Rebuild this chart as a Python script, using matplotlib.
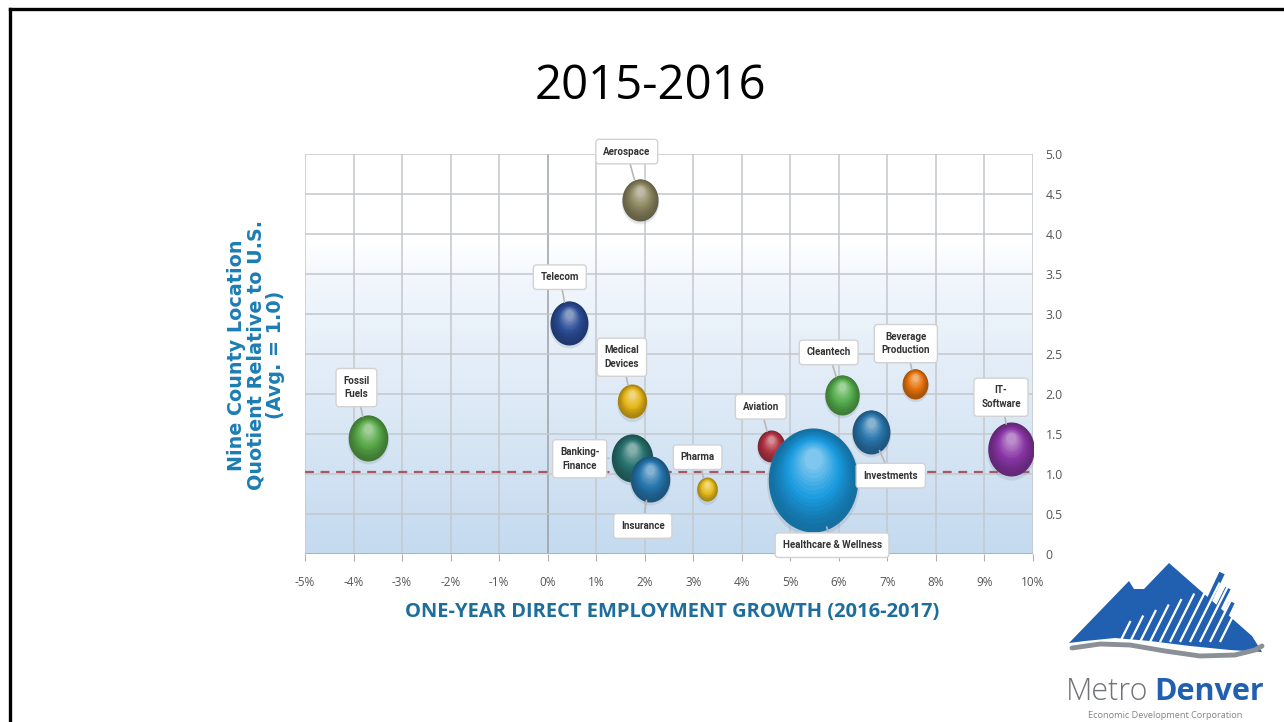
import numpy as np
import matplotlib
matplotlib.use("Agg")
import matplotlib.pyplot as plt
from matplotlib.path import Path
from matplotlib.patches import Polygon
from matplotlib.lines import Line2D
import matplotlib.colors as mcolors

# ---------------- data ----------------
industries = ["Aerospace", "Telecom", "Medical\nDevices", "Fossil\nFuels", "Banking-\nFinance",
              "Insurance", "Pharma", "Aviation", "Healthcare & Wellness", "Cleantech",
              "Investments", "Beverage\nProduction", "IT-\nSoftware"]
growth = [1.9, 0.43, 1.73, -3.71, 1.73, 2.1, 3.28, 4.6, 5.46, 6.06, 6.66, 7.57, 9.55]   # %
lq = [4.43, 2.89, 1.91, 1.45, 1.2, 0.94, 0.81, 1.35, 0.93, 1.99, 1.53, 2.13, 1.31]
bubble_size = [42, 44, 34, 46, 48, 46, 24, 32, 104, 40, 44, 30, 54]   # relative bubble diameter
colors = ["#8c8660", "#2c4e98", "#e6b618", "#58a848", "#27726f", "#2676ae", "#e6bc1c",
          "#b33444", "#1a9be0", "#56ae4e", "#2a78ae", "#e8740c", "#8a36a6"]
label_x = [1.63, 0.25, 1.53, -3.94, 0.66, 1.96, 3.09, 4.39, 5.86, 5.79, 7.07, 7.38, 9.34]
label_y = [5.03, 3.46, 2.46, 2.08, 1.19, 0.35, 1.21, 1.84, 0.11, 2.52, 0.98, 2.63, 1.96]
draw_order = [0, 1, 2, 3, 4, 5, 6, 7, 8, 9, 10, 11, 12]
avg_line = 1.02
xticks = list(range(-5, 11))
xticklabels = [f"{v}%" for v in xticks]
yticks = [0, 0.5, 1.0, 1.5, 2.0, 2.5, 3.0, 3.5, 4.0, 4.5, 5.0]
yticklabels = ["0", "0.5", "1.0", "1.5", "2.0", "2.5", "3.0", "3.5", "4.0", "4.5", "5.0"]

W, H = 1284, 722
fig = plt.figure(figsize=(W / 100, H / 100), dpi=100)
fig.patch.set_facecolor("white")

def fx(px):
    return np.asarray(px) / W

def fy(py):
    return 1 - np.asarray(py) / H

# slide border (top and left)
fig.add_artist(Line2D([fx(10), fx(1284)], [fy(9), fy(9)], color="black", lw=2.4))
fig.add_artist(Line2D([fx(10), fx(10)], [fy(9), fy(722)], color="black", lw=2.4))

fig.text(fx(650), fy(86), "2015-2016", ha="center", va="center", fontsize=34,
         family=["Open Sans", "DejaVu Sans"], color="black")

ax = fig.add_axes([fx(305), fy(554), (1033 - 305) / W, (554 - 154) / H])
ax.set_xlim(-5, 10)
ax.set_ylim(0, 5)

# background gradient
ys = np.linspace(0, 5, 500)
c_top = np.array(mcolors.to_rgb("#ffffff"))
c_mid = np.array(mcolors.to_rgb("#f1f6fc"))
c_bot = np.array(mcolors.to_rgb("#c4daef"))
img = np.zeros((500, 1, 3))
for i, yv in enumerate(ys):
    if yv >= 3.9:
        img[i, 0] = c_top
    elif yv >= 3.4:
        t = (yv - 3.4) / 0.5
        img[i, 0] = c_mid * (1 - t) + c_top * t
    else:
        t = yv / 3.4
        img[i, 0] = c_bot * (1 - t) + c_mid * t
ax.imshow(img, extent=[-5, 10, 0, 5], origin="lower", aspect="auto", zorder=0)

for xv in xticks:
    ax.axvline(xv, color="#c4c8cc" if xv != 0 else "#9aa0a6", lw=1.1, zorder=1)
for yv in yticks:
    ax.axhline(yv, color="#c4c8cc", lw=1.1, zorder=1)

ax.axhline(avg_line, color="#a45868", lw=1.6, ls=(0, (4, 3)), zorder=2)

for s in ax.spines.values():
    s.set_visible(False)
ax.axhline(0, color="#a8acb0", lw=1.8, zorder=2)

ax.set_xticks(xticks)
ax.set_xticklabels(xticklabels)
ax.yaxis.tick_right()
ax.set_yticks(yticks)
ax.set_yticklabels(yticklabels)
ax.tick_params(axis="x", length=5, color="#b0b0b0", pad=11, labelsize=8.5, labelcolor="#555555")
ax.tick_params(axis="y", length=0, pad=9, labelsize=8.8, labelcolor="#555555")
for lab in ax.get_xticklabels() + ax.get_yticklabels():
    lab.set_family(["Open Sans", "DejaVu Sans"])

# ellipse marker (slightly taller than wide)
th = np.linspace(0, 2 * np.pi, 80)
ell = Path(np.column_stack([0.86 * np.cos(th), np.sin(th)]), closed=True)

def shade(c, f):
    c = np.array(mcolors.to_rgb(c))
    if f >= 0:
        return tuple(c + (1 - c) * f)
    return tuple(c * (1 + f))

for i in draw_order:
    x, y, d, c = growth[i], lq[i], bubble_size[i], colors[i]
    ax.scatter([x], [y - 0.03], s=(d * 0.72 * 1.04) ** 2, marker=ell, color="#8090a0",
               alpha=0.22, lw=0, zorder=3 + i * 0.01)
    n = 16
    for k in range(n):
        t = k / (n - 1)
        size = d * (1 - 0.8 * t)
        col = shade(c, -0.28 + 0.72 * t ** 1.4)
        oy = 0.2 * t * d / 80
        ax.scatter([x], [y + oy], s=(size * 0.72) ** 2, marker=ell, color=col,
                   lw=0, zorder=3 + i * 0.01 + 0.0001 * k)

lab_font = ["Roboto", "DejaVu Sans"]
for i in range(len(industries)):
    rad_pt = bubble_size[i] * 0.72 / 2
    ax.annotate(industries[i], xy=(growth[i], lq[i]), xytext=(label_x[i], label_y[i]),
                ha="center", va="center", fontsize=7, fontweight="bold", color="#333333",
                family=lab_font, linespacing=1.45,
                bbox=dict(boxstyle="round,pad=0.75,rounding_size=0.35", fc="white",
                          ec="#d2d2d2", lw=1.0),
                arrowprops=dict(arrowstyle="-", color="#b8b8b8", lw=1.2, shrinkA=0,
                                shrinkB=rad_pt * 0.95),
                zorder=5, annotation_clip=False)

fig.text(fx(672), fy(612), "ONE-YEAR DIRECT EMPLOYMENT GROWTH (2016-2017)", ha="center",
         va="center", fontsize=14.5, fontweight="bold", color="#1d6e9c",
         family=["Open Sans", "DejaVu Sans"])
fig.text(fx(256), fy(355), "Nine County Location\nQuotient Relative to U.S.\n(Avg. = 1.0)",
         ha="center", va="center", rotation=90, fontsize=13.8, fontweight="bold",
         color="#1b7db3", family=["DejaVu Sans"], linespacing=1.05)

# ---------------- logo ----------------
blue = "#2160b0"
def P(pts):
    return [(float(fx(a)), float(fy(b))) for a, b in pts]

mountain_pts = [(1069, 643), (1129, 581), (1134, 589), (1144, 589), (1169, 563), (1202, 592),
                (1252, 636), (1262, 652), (1230, 650), (1190, 646), (1150, 641), (1115, 638),
                (1085, 641)]
mountain = Polygon(P(mountain_pts), closed=True, fc=blue, ec="none")
fig.add_artist(mountain)
# protruding skyline bars on the right
for (x0, y0, x1, y1) in [(1200, 620, 1222, 573), (1208, 628, 1228, 588), (1216, 636, 1232, 602)]:
    fig.add_artist(Line2D([fx(x0), fx(x1)], [fy(y0), fy(y1)], color=blue, lw=4.2,
                          solid_capstyle="butt"))
# white stripes
for k in range(11):
    xb = 1120 + k * 10
    yb = 642
    top = 621 - k * 5.5
    ln = Line2D([fx(xb), fx(xb + (yb - top) * 0.5)], [fy(yb), fy(top)], color="white",
                lw=1.6, solid_capstyle="butt")
    fig.add_artist(ln)
# gray swoosh
sw = [(1072, 648), (1100, 644), (1130, 645), (1165, 651), (1200, 656), (1235, 655),
      (1255, 650), (1262, 646)]
swx = np.array([p[0] for p in sw], float)
swy = np.array([p[1] for p in sw], float)
fig.add_artist(Line2D(fx(swx), fy(swy), color="#8a9096", lw=3.5, solid_capstyle="round"))

fig.text(fx(1066), fy(692), "Metro", ha="left", va="center", fontsize=22,
         color="#707478", family=["Open Sans", "DejaVu Sans"], fontweight="light")
fig.text(fx(1264), fy(692), "Denver", ha="right", va="center", fontsize=22,
         color=blue, family=["Open Sans", "DejaVu Sans"], fontweight="bold")
fig.text(fx(1165), fy(715), "Economic Development Corporation", ha="center", va="center",
         fontsize=6.6, color="#808488", family=["Open Sans", "DejaVu Sans"])

fig.savefig("out.png", dpi=100)
